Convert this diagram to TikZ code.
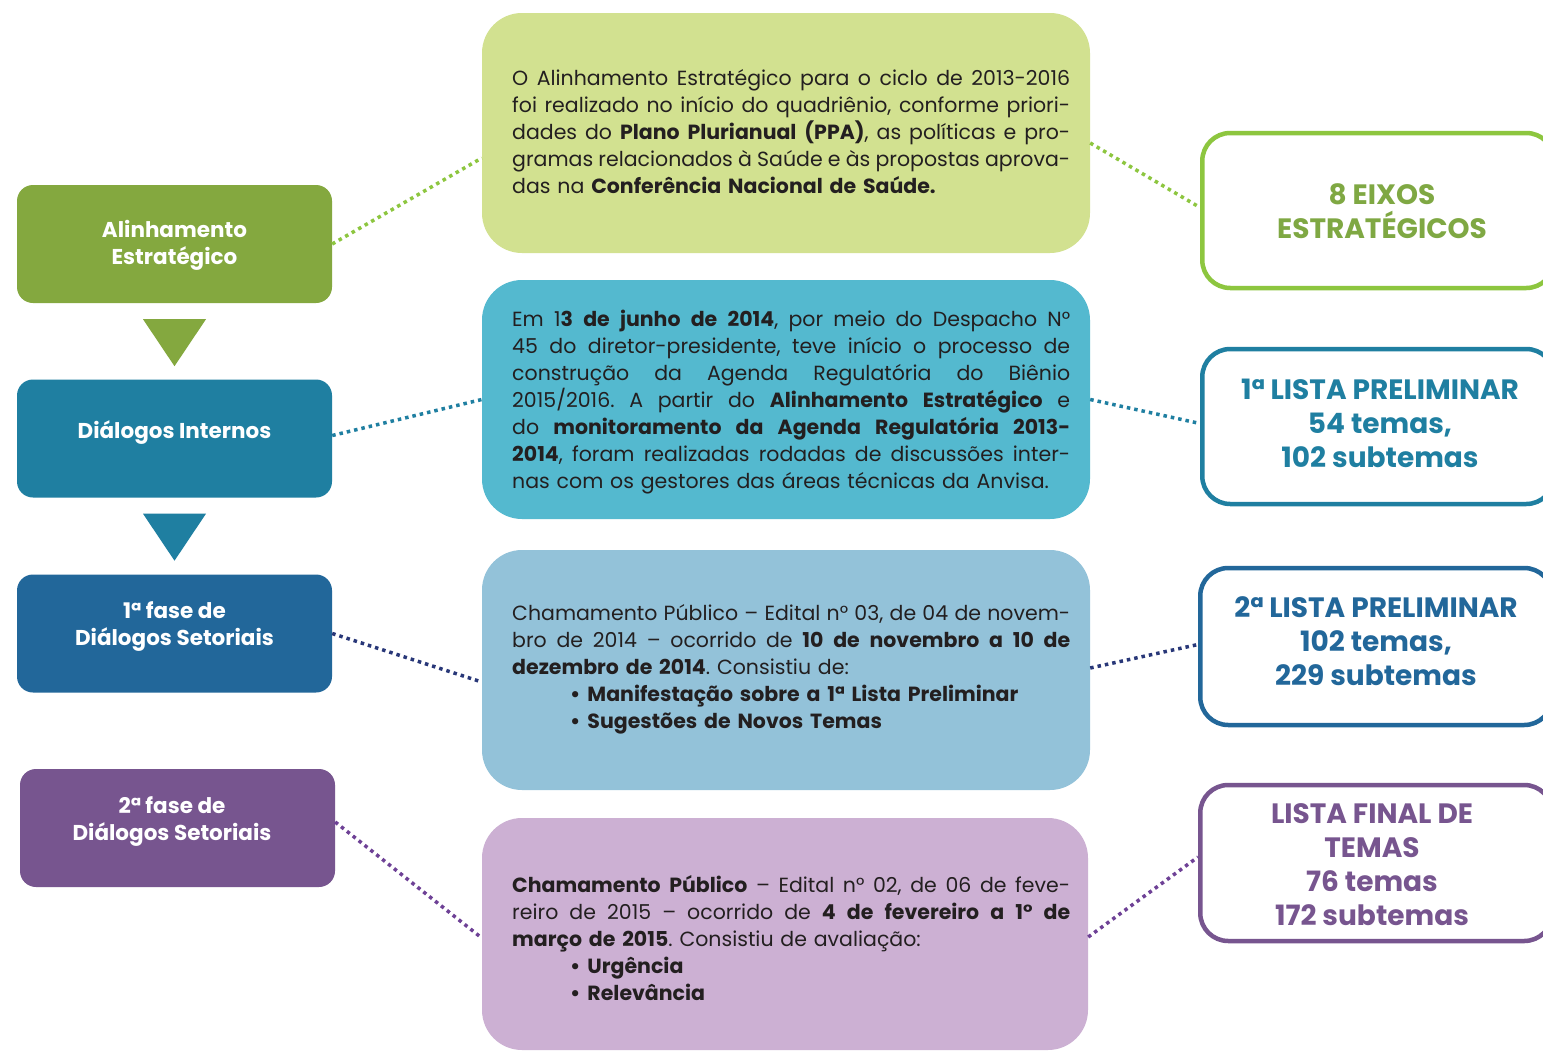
\documentclass[tikz,border=0pt]{standalone}
\usepackage{fontspec}
\setmainfont{Poppins}
\usetikzlibrary{calc}
\definecolor{lgreen}{RGB}{132,168,63}
\definecolor{lteal}{RGB}{31,127,161}
\definecolor{lblue}{RGB}{34,103,154}
\definecolor{lpurple}{RGB}{119,85,143}
\definecolor{mgreen}{RGB}{210,225,144}
\definecolor{mteal}{RGB}{84,185,207}
\definecolor{mblue}{RGB}{147,194,217}
\definecolor{mpurple}{RGB}{204,176,211}
\definecolor{rgreen}{RGB}{141,198,63}
\definecolor{rgtext}{RGB}{127,168,67}
\definecolor{cnavy}{RGB}{40,55,120}
\definecolor{cpurple}{RGB}{110,65,150}
\definecolor{txt}{RGB}{35,31,32}
\frenchspacing
\newcommand\jl[1]{\makebox[558pt][s]{\spaceskip=\fontdimen2\font plus 1em minus 0.1em\relax #1}}
\newcommand\bul[1]{\hspace*{58pt}\textbf{•\hspace{7pt}#1}}
\tikzset{
  lbox/.style={rectangle, rounded corners=16pt, minimum width=315pt, minimum height=118pt, inner sep=0pt},
  ltext/.style={text=white, align=center, inner sep=0pt, font=\fontsize{21.5}{27}\selectfont\bfseries},
  mbox/.style={rectangle, rounded corners=40pt, minimum width=608pt, minimum height=240pt, inner sep=0pt},
  mtext/.style={text=txt, text width=558pt, align=left, inner sep=0pt, anchor=west, font=\fontsize{20.5}{27}\selectfont},
  rbox/.style={rectangle, rounded corners=28pt, fill=white, line width=4.5pt, minimum width=352pt, minimum height=155pt, inner sep=0pt},
  rtext/.style={align=center, inner sep=0pt, font=\fontsize{28}{34}\selectfont\bfseries},
  conn/.style={line width=3.5pt, dash pattern=on 3.5pt off 4pt}
}
\begin{document}
\begin{tikzpicture}[x=1pt,y=-1pt]
\useasboundingbox (0,0) rectangle (1543,1052);
\clip (0,0) rectangle (1543,1052);
\fill[white] (0,0) rectangle (1543,1052);
% left boxes
\node[lbox, fill=lgreen] (l1) at (174.5,244) {};
\node[ltext] (l1t) at (174.5,245) {Alinhamento\\Estratégico};
\node[lbox, fill=lteal] (l2) at (174.5,438.5) {};
\node[ltext] (l2t) at (174.5,433) {Diálogos Internos};
\node[lbox, fill=lblue] (l3) at (174.5,633.5) {};
\node[ltext] (l3t) at (174.5,627) {1ª fase de\\Diálogos Setoriais};
\node[lbox, fill=lpurple] (l4) at (177.5,828) {};
\node[ltext] (l4t) at (172,822) {2ª fase de\\Diálogos Setoriais};
% triangles
\fill[lgreen] ($(l1.south)+(-31.5,16)$) -- ($(l1.south)+(31.5,16)$) -- ($(l1.south)+(0,63)$) -- cycle;
\fill[lteal] ($(l2.south)+(-31.5,16)$) -- ($(l2.south)+(31.5,16)$) -- ($(l2.south)+(0,63)$) -- cycle;
% middle boxes
\node[mbox, fill=mgreen] (m1) at (786,133) {};
\node[mbox, fill=mteal, minimum height=239pt] (m2) at (786,399.5) {};
\node[mbox, fill=mblue] (m3) at (786,670) {};
\node[mbox, fill=mpurple, minimum width=606pt, minimum height=232pt] (m4) at (785,934) {};
\node[mtext] (m1t) at (512,132) {%
\jl{O Alinhamento Estratégico para o ciclo de 2013-2016}\\
\jl{foi realizado no início do quadriênio, conforme priori-}\\
\jl{dades do \textbf{Plano Plurianual (PPA)}, as políticas e pro-}\\
\jl{gramas relacionados à Saúde e às propostas aprova-}\\
das na \textbf{Conferência Nacional de Saúde.}};
\node[mtext] (m2t) at (512,402) {%
\jl{Em 1\textbf{3 de junho de 2014}, por meio do Despacho N°}\\
\jl{45 do diretor-presidente, teve início o processo de}\\
\jl{construção da Agenda Regulatória do Biênio}\\
\jl{2015/2016. A partir do \textbf{Alinhamento Estratégico} e}\\
\jl{do \textbf{monitoramento da Agenda Regulatória 2013-}}\\
\jl{\textbf{2014}, foram realizadas rodadas de discussões inter-}\\
nas com os gestores das áreas técnicas da Anvisa.};
\node[mtext] (m3t) at (512,669) {%
\jl{Chamamento Público – Edital n° 03, de 04 de novem-}\\
\jl{bro de 2014 – ocorrido de \textbf{10 de novembro a 10 de}}\\
\textbf{dezembro de 2014}. Consistiu de:\\
\bul{Manifestação sobre a 1ª Lista Preliminar}\\
\bul{Sugestões de Novos Temas}};
\node[mtext] (m4t) at (512,938) {%
\jl{\textbf{Chamamento Público} – Edital n° 02, de 06 de feve-}\\
\jl{reiro de 2015 – ocorrido de \textbf{4 de fevereiro a 1° de}}\\
\textbf{março de 2015}. Consistiu de avaliação:\\
\bul{Urgência}\\
\bul{Relevância}};
% right boxes
\node[rbox, draw=rgreen, anchor=west] (r1) at (1200,210.5) {};
\node[rtext, text=rgtext] (r1t) at (1382,211) {8 EIXOS\\ESTRATÉGICOS};
\node[rbox, draw=lteal, anchor=west] (r2) at (1200,426.5) {};
\node[rtext, text=lteal] (r2t) at (1380,423) {1ª LISTA PRELIMINAR\\54 temas,\\102 subtemas};
\node[rbox, draw=lblue, anchor=west, minimum height=157pt] (r3) at (1198,646.5) {};
\node[rtext, text=lblue] (r3t) at (1376,641) {2ª LISTA PRELIMINAR\\102 temas,\\229 subtemas};
\node[rbox, draw=lpurple, anchor=west, minimum height=156pt] (r4) at (1198,863) {};
\node[rtext, text=lpurple] (r4t) at (1372,865) {LISTA FINAL DE\\TEMAS\\76 temas\\172 subtemas};
% connectors
\draw[conn, rgreen] (l1.east) -- ([yshift=-25pt]m1.west);
\draw[conn, rgreen] ([yshift=-10pt]m1.east) -- ([yshift=3pt]r1.west);
\draw[conn, lteal] ([yshift=3pt]l2.east) -- (m2.west);
\draw[conn, lteal] (m2.east) -- ([yshift=3pt]r2.west);
\draw[conn, cnavy] (l3.east) -- ([yshift=-12pt]m3.west);
\draw[conn, cnavy] ([yshift=2pt]m3.east) -- ([yshift=2pt]r3.west);
\draw[conn, cpurple] ([yshift=6pt]l4.east) -- ([yshift=-4pt]m4.west);
\draw[conn, cpurple] ([yshift=-3pt]m4.east) -- ([yshift=6pt]r4.west);
\end{tikzpicture}
\end{document}
